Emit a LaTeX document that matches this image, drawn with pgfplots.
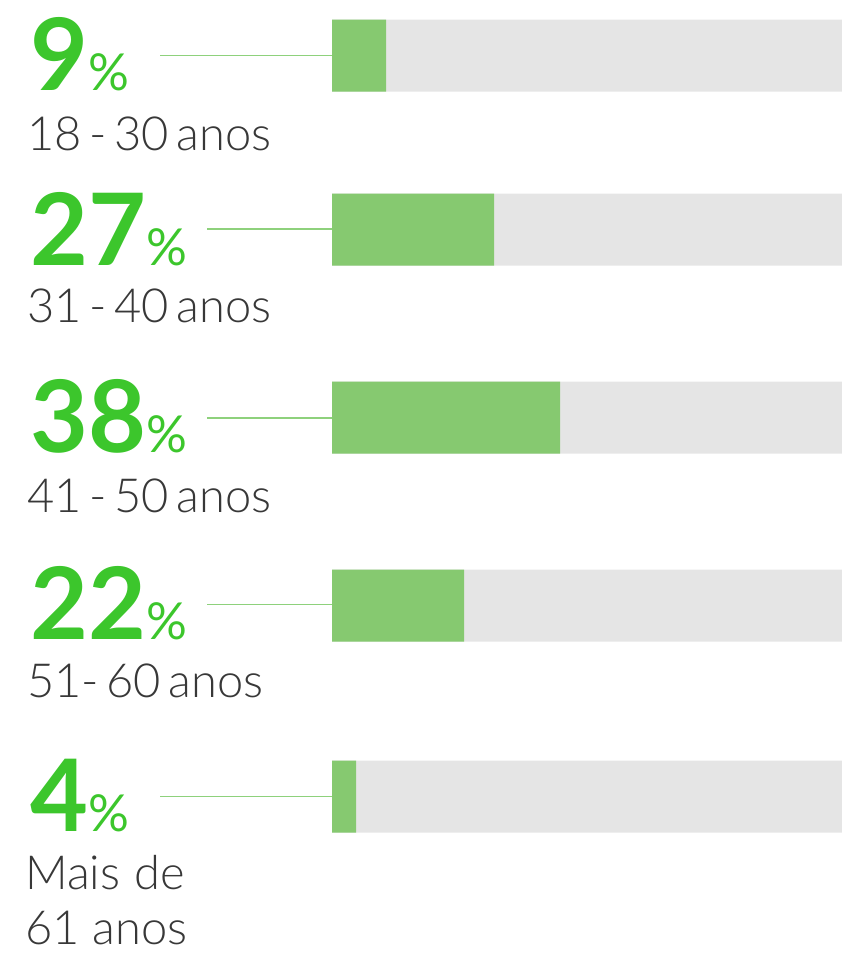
\documentclass[border=0pt]{standalone}
\usepackage{pgfplots}
\usepackage{pgfplotstable}
\pgfplotsset{compat=1.18}
\usepackage{fontspec}
\setmainfont{Lato}
\newfontfamily\lightfont{Lato Light}[WordSpace=0.6]
\definecolor{numgreen}{HTML}{3CC62C}
\definecolor{bargreen}{HTML}{86C970}
\definecolor{track}{HTML}{E5E5E5}
\definecolor{linegreen}{HTML}{8ED17C}
\definecolor{labelgray}{HTML}{383838}
\pgfplotstableread{
y val track
55.5 9 85
229.5 27 85
417.5 38 85
605.5 22 85
796.5 4 85
}\datatable
\begin{document}
\begin{tikzpicture}[x=1pt,y=1pt]
\path[use as bounding box] (0,0) rectangle (842,-954);
\begin{axis}[at={(332pt,0pt)}, anchor=north west, scale only axis, width=510pt, height=954pt,
  xmin=0, xmax=85, ymin=0, ymax=954, y dir=reverse, hide axis, clip=false]
\addplot[xbar, bar shift=0pt, bar width=72, fill=track, draw=none] table[x=track, y=y] \datatable;
\addplot[xbar, bar shift=0pt, bar width=72, fill=bargreen, draw=none] table[x=val, y=y] \datatable;
\end{axis}
\draw[linegreen, line width=1.3pt] (160,-55.5) -- (332,-55.5);
\draw[linegreen, line width=1.3pt] (207,-229) -- (332,-229);
\draw[linegreen, line width=1.3pt] (207,-418) -- (332,-418);
\draw[linegreen, line width=1.3pt] (207,-604.5) -- (332,-604.5);
\draw[linegreen, line width=1.3pt] (160,-796.5) -- (332,-796.5);
\tikzset{big/.style={anchor=base west, inner sep=0pt, text=numgreen},
  lab/.style={anchor=base west, inner sep=0pt, text depth=0pt, text=labelgray, font=\lightfont\fontsize{47}{56}\selectfont}}
\newcommand\bignum[1]{{\fontsize{100}{100}\selectfont\bfseries #1}{\fontsize{51}{51}\selectfont\%}}
\node[big] at (30,-90) {\bignum{9}};
\node[big] at (30,-265) {\bignum{27}};
\node[big] at (30,-452) {\bignum{38}};
\node[big] at (30,-639) {\bignum{22}};
\node[big] at (30,-831) {\bignum{4}};
\node[lab] at (27,-150) {18 - 30 anos};
\node[lab] at (27,-322) {31 - 40 anos};
\node[lab] at (27,-512) {41 - 50 anos};
\node[lab] at (27,-697) {51- 60 anos};
\node[lab] at (25,-889) {Mais\hspace{14pt}de};
\node[lab] at (25,-944) {61\hspace{13pt}anos};
\end{tikzpicture}
\end{document}
